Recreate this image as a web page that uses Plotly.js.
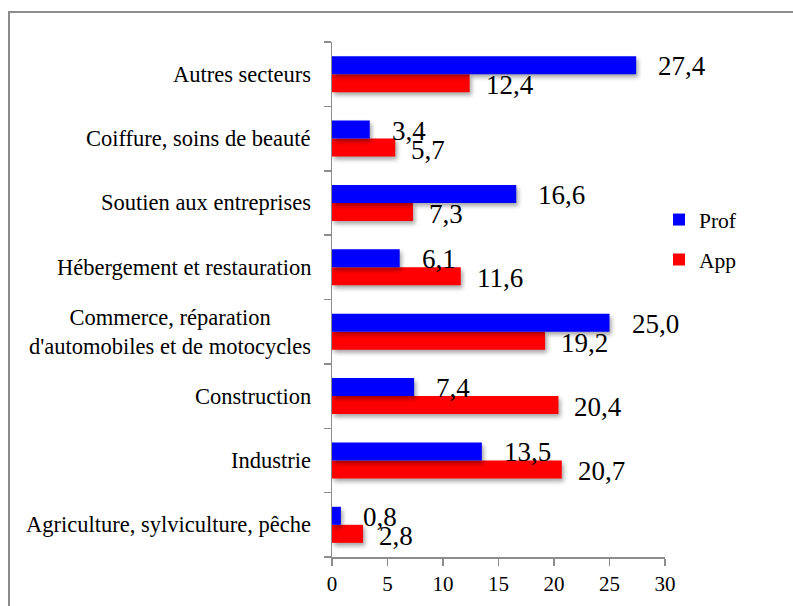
<!DOCTYPE html>
<html>
<head>
<meta charset="utf-8">
<script src="https://cdn.plot.ly/plotly-3.0.1.min.js"></script>
<style>
  html, body { margin: 0; padding: 0; background: #fff; }
  #wrap { position: relative; width: 793px; height: 606px; overflow: hidden; }
  #chart { width: 793px; height: 606px; }
  #frame { position: absolute; left: 8px; top: 11px; width: 900px; height: 700px;
           border-left: 2px solid #8c8c8c; border-top: 2px solid #8c8c8c; pointer-events: none; }
  .barlayer .point path { filter: drop-shadow(2px 3px 2px rgba(0,0,0,0.35)); }
</style>
</head>
<body>
<div id="wrap">
  <div id="chart"></div>
  <div id="frame"></div>
</div>
<script>
const categories = [
  "Agriculture, sylviculture, pêche",
  "Industrie",
  "Construction",
  "Commerce, réparation<br>d'automobiles et de motocycles",
  "Hébergement et restauration",
  "Soutien aux entreprises",
  "Coiffure, soins de beauté",
  "Autres secteurs"
];
const profValues = [0.8, 13.5, 7.4, 25.0, 6.1, 16.6, 3.4, 27.4];
const appValues  = [2.8, 20.7, 20.4, 19.2, 11.6, 7.3, 5.7, 12.4];
const xTicks = [0, 5, 10, 15, 20, 25, 30];

const FONT = "Liberation Serif";
const fmt = v => v.toFixed(1).replace('.', ',');

const traces = [
  { type: 'bar', orientation: 'h', name: 'App', y: categories, x: appValues,
    marker: { color: '#ff0000' }, legendgroup: 'app', legendrank: 2, hoverinfo: 'none' },
  { type: 'bar', orientation: 'h', name: 'Prof', y: categories, x: profValues,
    marker: { color: '#0000ff' }, legendgroup: 'prof', legendrank: 1, hoverinfo: 'none' }
];

const annotations = [];
categories.forEach((c, i) => {
  annotations.push({ xref: 'paper', x: 0, yref: 'y', y: c, text: c, showarrow: false,
    xanchor: 'right', align: 'center', xshift: -19, yshift: 0,
    font: { family: FONT, size: 22.5, color: '#000' } });
  annotations.push({ xref: 'x', x: profValues[i], yref: 'y', y: c, text: fmt(profValues[i]),
    showarrow: false, xanchor: 'left', xshift: 20, yshift: 8,
    font: { family: FONT, size: 27, color: '#000' } });
  annotations.push({ xref: 'x', x: appValues[i], yref: 'y', y: c, text: fmt(appValues[i]),
    showarrow: false, xanchor: 'left', xshift: 14, yshift: -11,
    font: { family: FONT, size: 27, color: '#000' } });
});

const layout = {
  width: 793, height: 606,
  margin: { l: 332, r: 128, t: 42, b: 49 },
  paper_bgcolor: '#fff', plot_bgcolor: '#fff',
  barmode: 'group', bargap: 0.44, bargroupgap: 0,
  showlegend: true,
  legend: { x: 0.982, xanchor: 'left', y: 0.695, yanchor: 'top', traceorder: 'grouped',
            tracegroupgap: 9, font: { family: FONT, size: 21.5, color: '#000' }, bgcolor: 'rgba(0,0,0,0)' },
  xaxis: { range: [0, 30], tickvals: xTicks, ticktext: xTicks.map(String), showgrid: false, zeroline: false,
           showline: true, linecolor: '#8c8c8c', linewidth: 1.5, ticks: 'outside', ticklen: 7,
           tickcolor: '#8c8c8c', tickwidth: 1.5, fixedrange: true,
           tickfont: { family: FONT, size: 21, color: '#000' } },
  yaxis: { type: 'category', categoryorder: 'array', categoryarray: categories,
           showticklabels: false, showgrid: false, zeroline: false,
           showline: true, linecolor: '#8c8c8c', linewidth: 1.5, ticks: 'outside', ticklen: 7,
           tickson: 'boundaries', tickcolor: '#8c8c8c', tickwidth: 1.5, fixedrange: true },
  annotations: annotations,
  font: { family: FONT, color: '#000' }
};

Plotly.newPlot('chart', traces, layout, { displayModeBar: false, staticPlot: true });
</script>
</body>
</html>
